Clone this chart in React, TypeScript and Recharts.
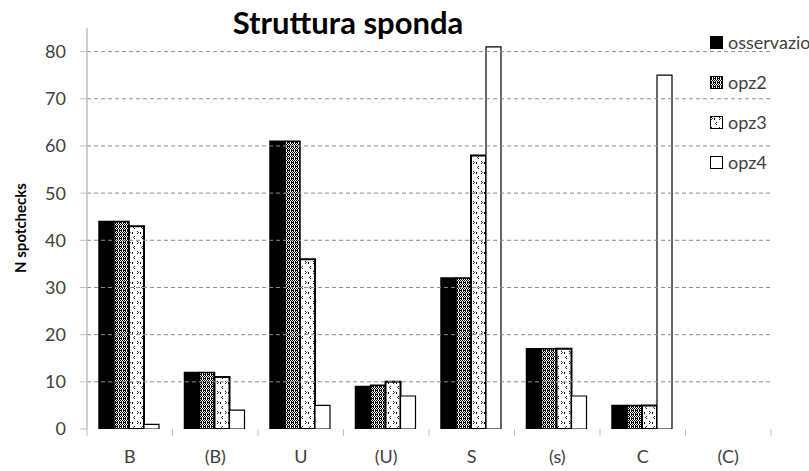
import React from 'react';
import { BarChart, Bar, XAxis, YAxis, ReferenceLine } from 'recharts';

// categorie (struttura sponda)
const CATEGORIES = ['B', '(B)', 'U', '(U)', 'S', '(s)', 'C', '(C)'];

// valori
const OSSERVAZIONI = [44, 12, 61, 9, 32, 17, 5, 0];
const OPZ2 = [44, 12, 61, 9.3, 32, 17, 5, 0];
const OPZ3 = [43, 11, 36, 10, 58, 17, 5, 0];
const OPZ4 = [1, 4, 5, 7, 81, 7, 75, 0];

const Y_TICKS = [0, 10, 20, 30, 40, 50, 60, 70, 80];
const GRID_VALUES = [10, 20, 30, 40, 50, 60, 70, 80];

const SERIES = [
  { key: 'osservazioni', fill: '#000000', strokeWidth: 1.5 },
  { key: 'opz2', fill: 'url(#pat-opz2)', strokeWidth: 1.5 },
  { key: 'opz3', fill: 'url(#pat-opz3)', strokeWidth: 2 },
  { key: 'opz4', fill: '#ffffff', strokeWidth: 1.2 },
];

const data = CATEGORIES.map((cat, i) => ({
  cat,
  osservazioni: OSSERVAZIONI[i],
  opz2: OPZ2[i],
  opz3: OPZ3[i],
  opz4: OPZ4[i],
}));

const FONT = 'Lato, "Open Sans", sans-serif';
const PLOT_LEFT = 87;
const PLOT_RIGHT = 771;
const BAND = (PLOT_RIGHT - PLOT_LEFT) / CATEGORIES.length;

function PatternDefs() {
  return (
    <svg width={0} height={0} style={{ position: 'absolute' }}>
      <defs>
        <pattern id="pat-opz2" width={4} height={4} patternUnits="userSpaceOnUse">
          <rect width={4} height={4} fill="#ffffff" />
          <rect x={0} y={0} width={1} height={1} fill="#000" />
          <rect x={2} y={0} width={1} height={1} fill="#000" />
          <rect x={1} y={1} width={1} height={1} fill="#000" />
          <rect x={3} y={1} width={1} height={1} fill="#000" />
          <rect x={0} y={2} width={2} height={1} fill="#000" />
          <rect x={3} y={2} width={1} height={1} fill="#000" />
          <rect x={1} y={3} width={1} height={1} fill="#000" />
          <rect x={3} y={3} width={1} height={1} fill="#000" />
        </pattern>
        <pattern id="pat-opz3" width={8} height={10} patternUnits="userSpaceOnUse">
          <rect width={8} height={10} fill="#ffffff" />
          <path d="M1 1 L2.5 2.5 L1 4" stroke="#000" strokeWidth={0.9} fill="none" />
          <path d="M7 6 L5.5 7.5 L7 9" stroke="#000" strokeWidth={0.9} fill="none" />
          <rect x={4} y={2} width={1} height={2} fill="#000" />
        </pattern>
      </defs>
    </svg>
  );
}

function XTick({ x, y, payload, index }: any) {
  const left = x - BAND / 2;
  return (
    <g>
      <line x1={left} y1={y} x2={left} y2={y + 7} stroke="#bfbfbf" />
      {index === CATEGORIES.length - 1 && (
        <line x1={x + BAND / 2} y1={y} x2={x + BAND / 2} y2={y + 7} stroke="#bfbfbf" />
      )}
      <text x={x} y={y + 34} textAnchor="middle" fontSize={18} fill="#404040" fontFamily={FONT}>
        {payload.value}
      </text>
    </g>
  );
}

// legenda sovrapposta all'area del grafico, come nell'originale
function LegendBox() {
  return (
    <div
      style={{
        position: 'absolute',
        left: 710,
        top: 22,
        fontFamily: FONT,
        fontSize: 18,
        color: '#404040',
      }}
    >
      {SERIES.map((s) => (
        <div key={s.key} style={{ display: 'flex', alignItems: 'center', height: 40, whiteSpace: 'nowrap' }}>
          <svg width={13} height={13} style={{ marginRight: 5 }}>
            <rect x={0.5} y={0.5} width={12} height={12} fill={s.fill} stroke="#000" strokeWidth={1} />
          </svg>
          <span>{s.key}</span>
        </div>
      ))}
    </div>
  );
}

export default function App() {
  return (
    <div style={{ position: 'absolute', left: 0, top: 0, width: 809, height: 471, overflow: 'hidden', background: '#fff' }}>
      <PatternDefs />
      <div
        style={{
          position: 'absolute',
          left: 348,
          top: 3,
          transform: 'translateX(-50%)',
          fontFamily: FONT,
          fontWeight: 700,
          fontSize: 31,
          color: '#000',
          whiteSpace: 'nowrap',
        }}
      >
        Struttura sponda
      </div>
      <div
        style={{
          position: 'absolute',
          left: 20,
          top: 228,
          transform: 'translate(-50%, -50%) rotate(-90deg)',
          fontFamily: FONT,
          fontWeight: 700,
          fontSize: 15,
          whiteSpace: 'nowrap',
        }}
      >
        N spotchecks
      </div>
      <BarChart
        width={809}
        height={471}
        data={data}
        margin={{ top: 28, right: 38, bottom: 0, left: 0 }}
        barCategoryGap={12}
        barGap={0}
      >
        <XAxis
          dataKey="cat"
          axisLine={false}
          tickLine={false}
          tickSize={0}
          tickMargin={0}
          height={42}
          interval={0}
          tick={<XTick />}
        />
        <YAxis
          type="number"
          domain={[0, 85]}
          ticks={Y_TICKS}
          width={87}
          axisLine={{ stroke: '#bfbfbf', strokeWidth: 1.5 }}
          tickLine={{ stroke: '#bfbfbf' }}
          tickSize={7}
          tickMargin={14}
          tick={{ fontSize: 18, fill: '#404040', fontFamily: FONT }}
          allowDataOverflow
        />
        {GRID_VALUES.map((v) => (
          <ReferenceLine key={v} y={v} stroke="#8c8c8c" strokeDasharray="4 3" />
        ))}
        {SERIES.map((s) => (
          <Bar
            key={s.key}
            dataKey={s.key}
            fill={s.fill}
            stroke="#000"
            strokeWidth={s.strokeWidth}
            isAnimationActive={false}
          />
        ))}
      </BarChart>
      <LegendBox />
    </div>
  );
}
